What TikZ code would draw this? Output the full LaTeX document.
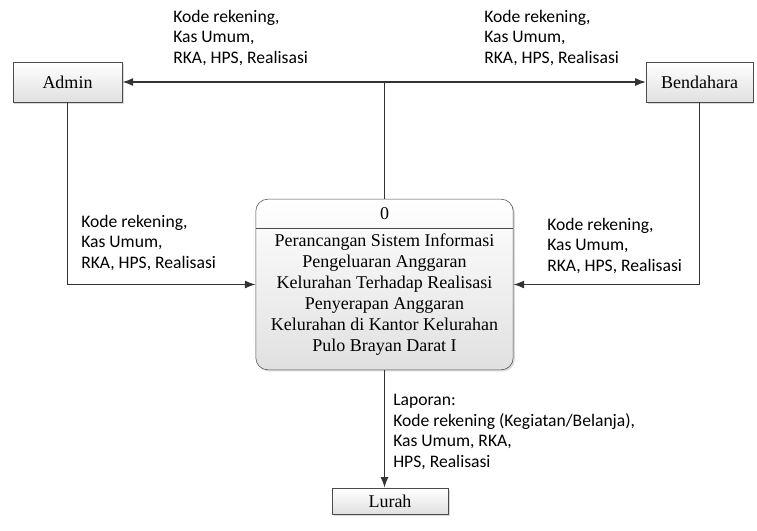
\documentclass[tikz,border=0pt]{standalone}
\usepackage{fontspec}
\setmainfont{Liberation Serif}
\newfontfamily\labelfont{Carlito}
\usetikzlibrary{
  arrows.meta,
  shadows
}

\begin{document}
\begin{tikzpicture}[
  x=0.75pt, y=-0.75pt,
  >={Latex[length=8pt,width=6pt]},
  every node/.style = {align=center},
  entitas/.style = {shape=rectangle, draw=black!70,
    font=\fontsize{13.5}{15.75}\selectfont,
    top color=white, bottom color=black!12,
    drop shadow={shadow xshift=1.2pt, shadow yshift=-1.2pt, fill=black!30}},
  aliran/.style = {font=\labelfont\fontsize{13.2}{15.5}\selectfont,
    align=left, inner sep=0pt, anchor=west}]
  \tikzstyle{garis}=[draw=black!80, line width=1.1pt]
  \useasboundingbox (0,0) rectangle (757,531);
  % entitas luar
  \node[entitas, minimum width=82pt, minimum height=30pt] (admin) at (67.5,82) {Admin};
  \node[entitas, minimum width=80pt, minimum height=30pt] (bendahara) at (699.5,82) {Bendahara};
  \node[entitas, minimum width=87pt, minimum height=19.5pt] (lurah) at (390,501) {Lurah};
  % proses 0
  \node[entitas, rounded corners=9pt, minimum width=193pt, minimum height=128pt] (proses) at (384.5,284.5) {};
  \node[font=\fontsize{13.5}{15.75}\selectfont] (nomor) at (384.5,214) {0};
  \coordinate (batas) at (384.5,228);
  \draw[black!70] (proses.west |- batas) -- (proses.east |- batas);
  \node[font=\fontsize{13.5}{15.75}\selectfont, inner sep=0pt] (judul) at (384.5,295)
    {Perancangan Sistem Informasi\\ Pengeluaran Anggaran\\ Kelurahan Terhadap Realisasi\\
     Penyerapan Anggaran\\ Kelurahan di Kantor Kelurahan\\ Pulo Brayan Darat I};
  % aliran data
  \coordinate (cabang) at (proses.north |- admin.east);
  \draw[garis] (proses.north) -- (cabang);
  \draw[garis,->] (cabang) -- (admin.east);
  \draw[garis,->] (cabang) -- (bendahara.west);
  \draw[garis,->] (admin.south) |- (proses.west);
  \draw[garis,->] (bendahara.south) |- (proses.east);
  \draw[garis,->] (proses.south) -- (proses.south |- lurah.north);
  % label
  \node[aliran] (keAdmin) at (173,38) {Kode rekening,\\ Kas Umum,\\ RKA, HPS, Realisasi};
  \node[aliran] (keBendahara) at (484,38) {Kode rekening,\\ Kas Umum,\\ RKA, HPS, Realisasi};
  \node[aliran] (dariAdmin) at (81,243) {Kode rekening,\\ Kas Umum,\\ RKA, HPS, Realisasi};
  \node[aliran] (dariBendahara) at (547,246) {Kode rekening,\\ Kas Umum,\\ RKA, HPS, Realisasi};
  \node[aliran] (keLurah) at (393,432) {Laporan:\\ Kode rekening (Kegiatan/Belanja),\\ Kas Umum, RKA,\\ HPS, Realisasi};
\end{tikzpicture}
\end{document}
